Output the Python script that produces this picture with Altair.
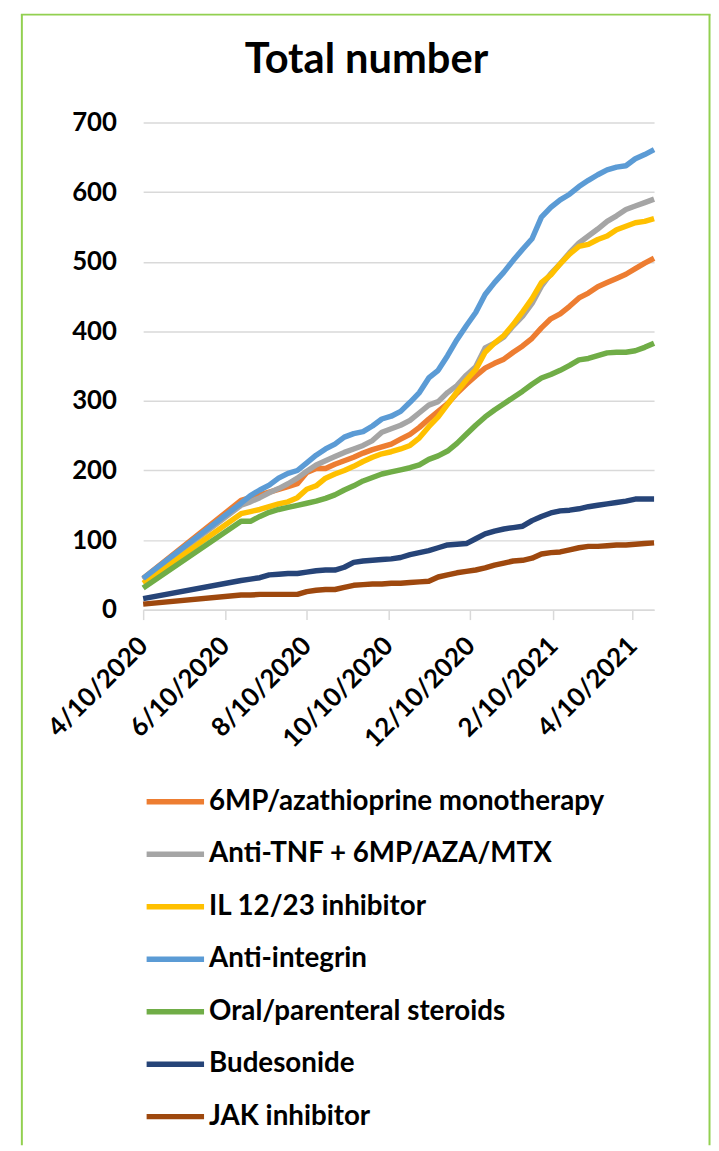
import altair as alt
import pandas as pd

# ---------------- data ----------------
dates = [
    "2020-04-10",
    "2020-06-22", "2020-06-29", "2020-07-06", "2020-07-13", "2020-07-20", "2020-07-27",
    "2020-08-03", "2020-08-10", "2020-08-17", "2020-08-24", "2020-08-31", "2020-09-07",
    "2020-09-14", "2020-09-21", "2020-09-28", "2020-10-05", "2020-10-12", "2020-10-19",
    "2020-10-26", "2020-11-02", "2020-11-09", "2020-11-16", "2020-11-23", "2020-11-30",
    "2020-12-07", "2020-12-14", "2020-12-21", "2020-12-28", "2021-01-04", "2021-01-11",
    "2021-01-18", "2021-01-25", "2021-02-01", "2021-02-08", "2021-02-15", "2021-02-22",
    "2021-03-01", "2021-03-08", "2021-03-15", "2021-03-22", "2021-03-29", "2021-04-05",
    "2021-04-12", "2021-04-19", "2021-04-26",
]

series_names = [
    "6MP/azathioprine monotherapy",
    "Anti-TNF + 6MP/AZA/MTX",
    "IL 12/23 inhibitor",
    "Anti-integrin",
    "Oral/parenteral steroids",
    "Budesonide",
    "JAK inhibitor",
]

mp_aza = [45, 157, 161, 165, 169, 173, 177, 181, 197, 203, 203, 209, 214, 219, 225, 230,
          234, 238, 245, 252, 262, 274, 285, 296, 311, 324, 336, 347, 354, 360, 370, 379,
          390, 405, 418, 425, 436, 448, 455, 464, 470, 476, 482, 490, 498, 505]
anti_tnf = [43, 150, 155, 161, 168, 174, 181, 189, 199, 208, 214, 220, 226, 231, 236, 243,
            255, 260, 265, 272, 283, 294, 299, 312, 322, 337, 349, 376, 383, 392, 408, 422,
            440, 465, 483, 497, 513, 527, 537, 547, 558, 566, 575, 580, 585, 590]
il_1223 = [38, 138, 141, 144, 148, 152, 155, 161, 173, 178, 189, 195, 200, 206, 213, 219,
           224, 227, 231, 236, 247, 263, 277, 295, 313, 330, 345, 370, 383, 394, 410, 428,
           447, 470, 481, 497, 511, 522, 525, 532, 537, 546, 551, 556, 558, 562]
anti_integrin = [45, 153, 164, 172, 179, 189, 196, 200, 211, 222, 231, 238, 248, 253, 256, 264,
                 274, 278, 285, 298, 312, 333, 344, 365, 388, 408, 427, 453, 470, 485, 502, 518,
                 533, 564, 578, 589, 597, 608, 617, 625, 632, 636, 638, 648, 654, 661]
steroids = [31, 127, 127, 134, 140, 144, 147, 150, 153, 156, 160, 165, 172, 178, 185, 190,
            195, 198, 201, 204, 208, 216, 221, 228, 239, 252, 265, 277, 287, 296, 305, 314,
            324, 333, 338, 344, 351, 359, 361, 365, 369, 370, 370, 372, 377, 383]
budesonide = [16, 42, 44, 46, 50, 51, 52, 52, 54, 56, 57, 57, 61, 68, 70, 71,
              72, 73, 75, 79, 82, 85, 89, 93, 94, 95, 102, 109, 113, 116, 118, 120,
              128, 134, 139, 142, 143, 145, 148, 150, 152, 154, 156, 159, 159, 159]
jak = [8, 21, 21, 22, 22, 22, 22, 22, 26, 28, 29, 29, 32, 35, 36, 37,
       37, 38, 38, 39, 40, 41, 47, 50, 53, 55, 57, 60, 64, 67, 70, 71,
       74, 80, 82, 83, 86, 89, 91, 91, 92, 93, 93, 94, 95, 96]

series_values = [mp_aza, anti_tnf, il_1223, anti_integrin, steroids, budesonide, jak]
series_colors = ["#ED7D31", "#A5A5A5", "#FFC000", "#5B9BD5", "#70AD47", "#264478", "#9E480E"]

tick_dates = ["2020-04-10", "2020-06-10", "2020-08-10", "2020-10-10",
              "2020-12-10", "2021-02-10", "2021-04-10"]
y_ticks = [0, 100, 200, 300, 400, 500, 600, 700]
title_text = "Total number"


def ms(d):
    return int(pd.Timestamp(d, tz="UTC").value // 10**6)


rows = []
for name, vals in zip(series_names, series_values):
    for d, v in zip(dates, vals):
        rows.append({"t": ms(d), "series": name, "value": v})
df = pd.DataFrame(rows)

FONT = "Lato"
W, H = 516, 492
ORIGIN_X, ORIGIN_Y = 144.5, 118   # page position of plot origin
PAD_L, PAD_T = ORIGIN_X - 8, ORIGIN_Y - 8
PAD_R = 718 - 8 - PAD_L - W
PAD_B = 1150 - 8 - PAD_T - H
BORDER = "#92D050"

x_enc = alt.X(
    "t:T",
    scale=alt.Scale(type="utc", domain=[ms(dates[0]), ms(dates[-1])], nice=False),
    axis=alt.Axis(
        values=[ms(d) for d in tick_dates],
        labelExpr="utcFormat(datum.value, '%-m/%-d/%Y')",
        labelAngle=-45, labelAlign="right", labelBaseline="middle",
        labelFont=FONT, labelFontSize=26, labelFontWeight="bold", labelColor="#000000",
        labelPadding=22, labelOverlap=False, labelFlush=False, labelBound=False,
        tickColor="#D9D9D9", tickSize=10, tickWidth=1.5,
        domainColor="#D9D9D9", domainWidth=1.5, grid=False, title=None,
    ),
)
y_enc = alt.Y(
    "value:Q",
    scale=alt.Scale(domain=[0, 700], nice=False, zero=True),
    axis=alt.Axis(
        values=y_ticks, ticks=False, tickSize=0, domain=False,
        grid=True, gridColor="#D9D9D9", gridWidth=1.5,
        labelFont=FONT, labelFontSize=26, labelFontWeight="bold", labelColor="#000000",
        labelPadding=27, title=None,
    ),
)

lines = alt.Chart(df).mark_line(strokeWidth=5.5, strokeJoin="round").encode(
    x=x_enc,
    y=y_enc,
    color=alt.Color(
        "series:N",
        scale=alt.Scale(domain=series_names, range=series_colors),
        legend=alt.Legend(
            orient="none", legendX=0.5, legendY=654, direction="vertical",
            title=None, symbolType="stroke", symbolStrokeWidth=5.5,
            symbolSize=58 * 58, labelFont=FONT, labelFontSize=28,
            labelFontWeight="bold", labelColor="#000000", labelOffset=2,
            rowPadding=7, labelLimit=0,
        ),
    ),
)

one = alt.Data(values=[{"k": 1}])
left_border = alt.Chart(one).mark_rule(color=BORDER, strokeWidth=2).encode(
    x=alt.value(22 - ORIGIN_X), y=alt.value(9 - ORIGIN_Y), y2=alt.value(1151 - ORIGIN_Y))
right_border = alt.Chart(one).mark_rule(color=BORDER, strokeWidth=2).encode(
    x=alt.value(716.5 - ORIGIN_X), y=alt.value(9 - ORIGIN_Y), y2=alt.value(1151 - ORIGIN_Y))
top_border = alt.Chart(one).mark_rule(color=BORDER, strokeWidth=2).encode(
    x=alt.value(21 - ORIGIN_X), x2=alt.value(717.5 - ORIGIN_X), y=alt.value(9 - ORIGIN_Y))
title = alt.Chart(one).mark_text(
    text=title_text, font=FONT, fontSize=42, fontWeight="bold", color="#000000",
    align="center", baseline="alphabetic",
).encode(x=alt.value(370 - ORIGIN_X), y=alt.value(68 - ORIGIN_Y))

chart = alt.layer(lines, left_border, right_border, top_border, title).properties(
    width=W, height=H,
    autosize=alt.AutoSizeParams(type="none"),
    padding={"left": PAD_L, "top": PAD_T, "right": PAD_R, "bottom": PAD_B},
    background="#FFFFFF",
).configure_view(stroke=None)

chart.save("out.html", embed_options={"renderer": "svg", "actions": False})
